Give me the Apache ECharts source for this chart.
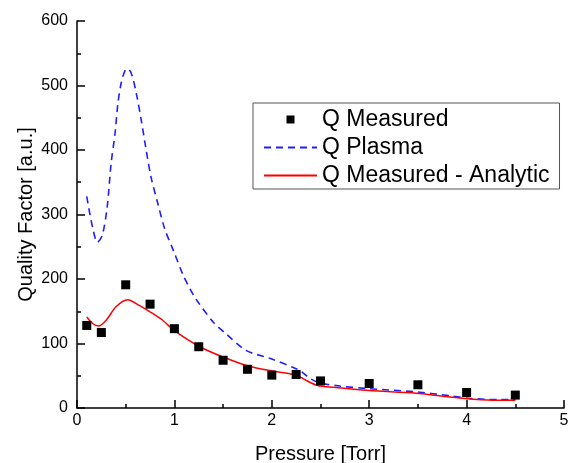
<!DOCTYPE html>
<html>
<head>
<meta charset="utf-8">
<script src="https://cdn.jsdelivr.net/npm/echarts@6/dist/echarts.min.js"></script>
<style>html,body{margin:0;padding:0;background:#fff}#c{width:573px;height:463px}</style>
</head>
<body>
<div id="c"></div>
<script>
// Measured Q (squares)
var measuredX = [0.1, 0.25, 0.5, 0.75, 1, 1.25, 1.5, 1.75, 2, 2.25, 2.5, 3, 3.5, 4, 4.5];
var measuredY = [128, 117, 191, 161, 123, 95, 74, 60, 51, 52, 42, 38, 36, 24, 20];

// Q Plasma (dashed blue)
var plasmaX = [0.1, 0.16, 0.21, 0.26, 0.31, 0.35, 0.39, 0.42, 0.455, 0.49, 0.52, 0.56, 0.61, 0.66, 0.71, 0.76, 0.83, 0.9, 0.99, 1.09, 1.17, 1.23, 1.4, 1.53, 1.74, 1.98, 2.25, 2.3, 2.39, 2.49, 2.7, 3.0, 3.48, 3.83, 4.03, 4.34, 4.5];
var plasmaY = [328, 280, 257, 268, 312, 379, 425, 472, 505, 522, 526, 518, 487, 446, 400, 358, 317, 278, 244, 206, 182, 167, 133, 115, 89, 77, 61, 57, 46, 39, 34, 30, 25, 19, 15, 13, 13];

// Q Measured - Analytic (solid red)
var analyticX = [0.1, 0.16, 0.22, 0.3, 0.4, 0.52, 0.64, 0.75, 0.88, 1.0, 1.26, 1.5, 1.74, 1.98, 2.25, 2.35, 2.47, 2.63, 3.0, 3.48, 3.83, 4.07, 4.34, 4.5];
var analyticY = [141, 131, 127, 136, 157, 168, 159, 149, 136, 120, 95, 79, 66, 58, 51, 43, 35, 32, 27, 23, 17, 13.5, 12, 12];

var seriesNames = ['Q Measured', 'Q Plasma', 'Q Measured - Analytic'];
var xTicks = [0, 1, 2, 3, 4, 5];
var yTicks = [0, 100, 200, 300, 400, 500, 600];

function pairs(xs, ys) { return xs.map(function (x, i) { return [x, ys[i]]; }); }

var FONT = 'Liberation Sans, Arial, sans-serif';
var chart = echarts.init(document.getElementById('c'), null, { renderer: 'canvas' });

var axisCommon = {
  axisLine: { show: true, onZero: false, lineStyle: { color: '#000', width: 1.5 } },
  axisTick: { show: true, inside: true, length: 8, lineStyle: { color: '#000', width: 1.5 } },
  minorTick: { show: true, splitNumber: 2, length: 4, lineStyle: { color: '#000', width: 1.5 } },
  splitLine: { show: false },
  nameLocation: 'middle',
  nameMoveOverlap: false,
  nameTextStyle: { fontFamily: FONT, fontSize: 20, color: '#000' }
};

chart.setOption({
  animation: false,
  backgroundColor: '#fff',
  grid: { left: 77, right: 9, top: 21, bottom: 55, containLabel: false, outerBoundsMode: 'none' },
  xAxis: Object.assign({}, axisCommon, {
    type: 'value', min: xTicks[0], max: xTicks[xTicks.length - 1], interval: 1,
    name: 'Pressure [Torr]', nameGap: 36,
    axisLabel: { fontFamily: FONT, fontSize: 16, color: '#000', margin: 5 }
  }),
  yAxis: Object.assign({}, axisCommon, {
    type: 'value', min: yTicks[0], max: yTicks[yTicks.length - 1], interval: 100,
    name: 'Quality Factor [a.u.]', nameGap: 41,
    axisLabel: { fontFamily: FONT, fontSize: 16, color: '#000', margin: 9 }
  }),
  legend: {
    orient: 'vertical',
    left: 253, top: 103,
    padding: [5, 10, 2, 10],
    itemGap: 5,
    itemWidth: 53,
    itemHeight: 8,
    borderColor: '#555',
    borderWidth: 1,
    backgroundColor: '#fff',
    textStyle: { fontFamily: FONT, fontSize: 23, color: '#000', lineHeight: 23 },
    data: [
      { name: seriesNames[0], icon: 'path://M0,0h1v1h-1z' },
      { name: seriesNames[1], itemStyle: { opacity: 0 } },
      { name: seriesNames[2], itemStyle: { opacity: 0 } }
    ]
  },
  series: [
    {
      name: seriesNames[1], type: 'line', data: pairs(plasmaX, plasmaY),
      smooth: 0.3, showSymbol: false, symbol: 'none',
      lineStyle: { color: '#1e1eff', width: 1.6, type: [7, 5] },
      itemStyle: { color: '#1e1eff' }, z: 2
    },
    {
      name: seriesNames[2], type: 'line', data: pairs(analyticX, analyticY),
      smooth: 0.3, showSymbol: false, symbol: 'none',
      lineStyle: { color: '#ff0000', width: 1.5 },
      itemStyle: { color: '#ff0000' }, z: 3
    },
    {
      name: seriesNames[0], type: 'scatter', data: pairs(measuredX, measuredY),
      symbol: 'rect', symbolSize: 9,
      itemStyle: { color: '#000', opacity: 1 }, z: 4
    }
  ]
});
</script>
</body>
</html>
